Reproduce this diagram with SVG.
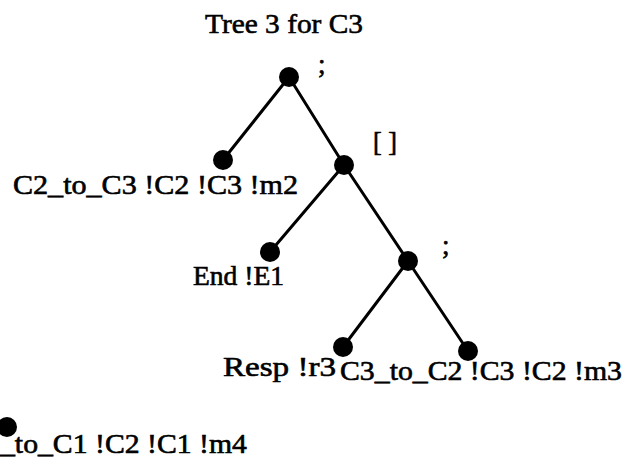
<svg xmlns="http://www.w3.org/2000/svg" width="633" height="474" viewBox="0 0 633 474">
<style>
text{font-family:"Liberation Serif","Times New Roman",serif;fill:#000;stroke:#000;stroke-width:0.6;font-size:27px}
.title{font-size:28px}
.edge{stroke:#000;stroke-width:3;fill:none;stroke-linecap:round}
.node circle{fill:#000}
</style>
<rect width="633" height="474" fill="#fff"/>
<text class="title" x="205" y="33" textLength="158" lengthAdjust="spacingAndGlyphs">Tree 3 for C3</text>
<g id="connectors">
<line class="edge" x1="289" y1="77" x2="223" y2="160"/>
<line class="edge" x1="289" y1="77" x2="344" y2="165"/>
<line class="edge" x1="344" y1="165" x2="270" y2="252"/>
<line class="edge" x1="344" y1="165" x2="408" y2="261"/>
<line class="edge" x1="408" y1="261" x2="343" y2="347"/>
<line class="edge" x1="408" y1="261" x2="468" y2="351"/>
</g>
<g id="root" class="node"><circle cx="289" cy="77" r="10"/><text x="318" y="73" font-size="26">;</text></g>
<g id="leaf-c2-to-c3" class="node"><circle cx="223" cy="160" r="10"/><text x="13" y="194" textLength="285" lengthAdjust="spacingAndGlyphs">C2_to_C3 !C2 !C3 !m2</text></g>
<g id="choice" class="node"><circle cx="344" cy="165" r="10"/><text x="373" y="151" textLength="24" lengthAdjust="spacingAndGlyphs">[ ]</text></g>
<g id="leaf-end" class="node"><circle cx="270" cy="252" r="10"/><text x="193" y="285" textLength="91" lengthAdjust="spacingAndGlyphs">End !E1</text></g>
<g id="seq" class="node"><circle cx="408" cy="261" r="10"/><text x="442" y="254" font-size="26">;</text></g>
<g id="leaf-resp" class="node"><circle cx="343" cy="347" r="10"/><text x="223" y="376" textLength="113" lengthAdjust="spacingAndGlyphs">Resp !r3</text></g>
<g id="leaf-c3-to-c2" class="node"><circle cx="468" cy="351" r="10"/><text x="340" y="380" textLength="282" lengthAdjust="spacingAndGlyphs">C3_to_C2 !C3 !C2 !m3</text></g>
<g id="leaf-c1" class="node"><circle cx="7" cy="427" r="10"/><text x="0" y="453" textLength="247" lengthAdjust="spacingAndGlyphs">_to_C1 !C2 !C1 !m4</text></g>
</svg>
